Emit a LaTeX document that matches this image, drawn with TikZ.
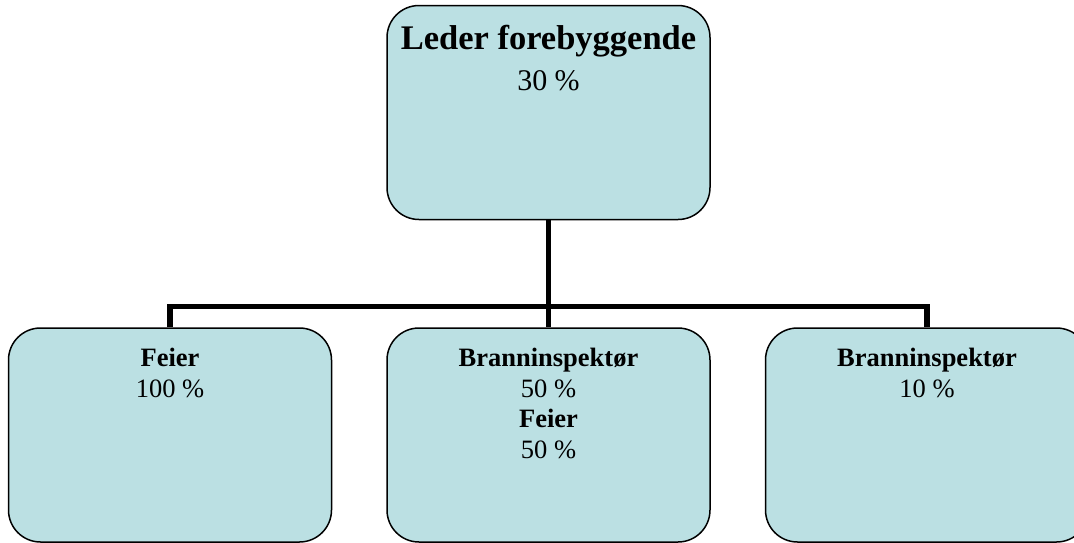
\documentclass[tikz,border=0pt]{standalone}
\usepackage{fontspec}
\setmainfont{Liberation Serif}
\usetikzlibrary{positioning}
\definecolor{boxfill}{HTML}{BBE0E3}
\tikzset{unit box/.style={rectangle, rounded corners=32pt, fill=boxfill, draw, line width=1.5pt, minimum width=323pt, minimum height=214pt, inner sep=0pt},
         box text/.style={anchor=north, align=center, inner sep=0pt, yshift=-21pt, font=\fontsize{26.5}{30.5}\selectfont},
         org line/.style={draw, line width=5.5pt, line join=miter}}

\begin{document}
\begin{tikzpicture}
		    \useasboundingbox (0,0) rectangle (1074pt,-542pt);
			% Define each box
			% The text sits at the top of the box as a label
		    \node[unit box, label={[box text, yshift=1pt, font=\fontsize{34.5}{41}\selectfont]north:\textbf{Leder forebyggende}\\{\fontsize{30}{41}\selectfont 30 \%}}] (leder) at (548.5pt,-112.5pt) {};
		    \node[unit box, label={[box text]north:\textbf{Branninspektør}\\50 \%\\\textbf{Feier}\\50 \%}] (mid) [below=107pt of leder] {};
		    \node[unit box, label={[box text]north:\textbf{Feier}\\100 \%}] (feier) [left=54pt of mid] {};
		    \node[unit box, label={[box text]north:\textbf{Branninspektør}\\10 \%}] (brann) [right=54pt of mid] {};
		    \coordinate[above=21pt of mid.north] (bar);
		
		    % Draw the connectors
		    \path[org line] (leder.south) -- (mid.north);
		    \path[org line] (feier.north) |- (bar) -| (brann.north);
		\end{tikzpicture}
\end{document}
